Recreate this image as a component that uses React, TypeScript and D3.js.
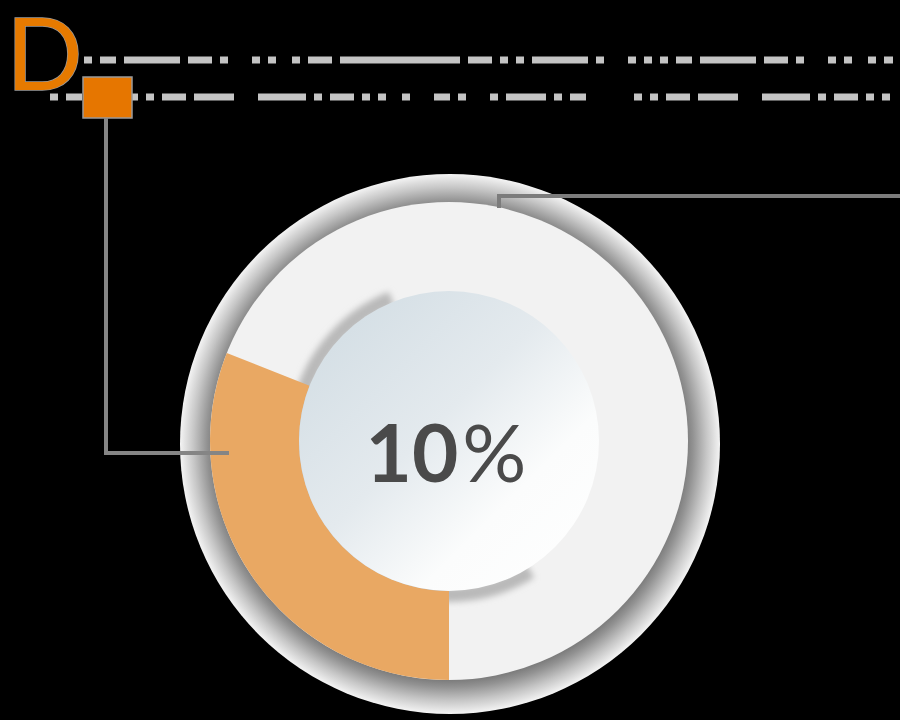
import { useEffect, useRef } from 'react';
import * as d3 from 'd3';

// donut shares (highlighted slice first, starting at 6 o'clock)
const sliceNames = ['highlight', 'rest'];
const sliceValues = [31, 69];
const centerLabel = '10';
const centerUnit = '%';
const badgeLetter = 'D';

// faint text rows at the top (dash runs, in px)
const rowOneDashes = [8, 8, 8, 8, 16, 8, 56, 8, 24, 8, 8, 24, 8, 8, 8, 16, 8, 8, 24, 8, 120, 8, 24, 8, 8, 8, 8, 8, 56, 8, 8, 24, 8, 8];
const rowTwoDashes = [8, 8, 16, 48, 8, 8, 8, 8, 24, 8, 40, 24, 48, 8, 8, 8, 24, 8, 8, 8, 8, 16, 8, 24, 16, 8, 8, 24, 8, 8, 40, 8];

export default function App() {
  const svgRef = useRef<SVGSVGElement>(null);

  useEffect(() => {
    if (!svgRef.current) return;
    const W = 900;
    const H = 720;
    const cx = 449;
    const cy = 441;
    const rOuter = 270;
    const rTrack = 239;
    const rDisk = 150;

    const root = d3.select(svgRef.current);
    root.selectAll('*').remove();
    root.attr('width', W).attr('height', H);

    const defs = root.append('defs');

    const ringGrad = defs
      .append('radialGradient')
      .attr('id', 'ringGrad')
      .attr('cx', '50%')
      .attr('cy', '50%')
      .attr('r', '50%');
    ringGrad.append('stop').attr('offset', '0.86').attr('stop-color', '#707070');
    ringGrad.append('stop').attr('offset', '0.9').attr('stop-color', '#929292');
    ringGrad.append('stop').attr('offset', '0.95').attr('stop-color', '#c6c6c6');
    ringGrad.append('stop').attr('offset', '1').attr('stop-color', '#f4f4f4');

    const diskGrad = defs
      .append('linearGradient')
      .attr('id', 'diskGrad')
      .attr('x1', '0')
      .attr('y1', '0')
      .attr('x2', '1')
      .attr('y2', '1');
    diskGrad.append('stop').attr('offset', '0').attr('stop-color', '#cfdbe2');
    diskGrad.append('stop').attr('offset', '0.45').attr('stop-color', '#e4eaee');
    diskGrad.append('stop').attr('offset', '0.7').attr('stop-color', '#fbfcfc');
    diskGrad.append('stop').attr('offset', '1').attr('stop-color', '#ffffff');

    const blur = defs.append('filter').attr('id', 'blur').attr('x', '-20%').attr('y', '-20%').attr('width', '140%').attr('height', '140%');
    blur.append('feGaussianBlur').attr('stdDeviation', 3);

    // background
    root.append('rect').attr('width', W).attr('height', H).attr('fill', '#000');

    // faint text rows
    const rows = [
      { y: 60, x1: 68, dashes: rowOneDashes },
      { y: 97, x1: 50, dashes: rowTwoDashes },
    ];
    rows.forEach((r) => {
      root
        .append('line')
        .attr('x1', r.x1)
        .attr('x2', 893)
        .attr('y1', r.y)
        .attr('y2', r.y)
        .attr('stroke', '#c4c4c4')
        .attr('stroke-width', 7)
        .attr('stroke-dasharray', r.dashes.join(' '));
    });

    // badge
    root
      .append('text')
      .attr('x', 6)
      .attr('y', 90)
      .text(badgeLetter)
      .attr('fill', '#e67a00')
      .attr('stroke', '#9a9a9a')
      .attr('stroke-width', 1.5)
      .attr('paint-order', 'stroke')
      .style('font-family', 'Lato, "Open Sans", sans-serif')
      .style('font-size', '101px')
      .style('font-weight', 400);
    root
      .append('rect')
      .attr('x', 83)
      .attr('y', 77)
      .attr('width', 49)
      .attr('height', 41)
      .attr('fill', '#e67600')
      .attr('stroke', '#9a9a9a')
      .attr('stroke-width', 1.5);

    const g = root.append('g').attr('transform', `translate(${cx},${cy})`);

    // outer shaded ring
    g.append('circle').attr('cx', 1).attr('cy', 3).attr('r', rOuter).attr('fill', 'url(#ringGrad)');

    // track
    g.append('circle').attr('r', rTrack).attr('fill', '#f2f2f2');

    // disk drop shadow on the track
    const shadowArc = d3
      .arc<any>()
      .innerRadius(rDisk - 4)
      .outerRadius(rDisk + 11)
      .startAngle((148 * Math.PI) / 180)
      .endAngle((338 * Math.PI) / 180);
    g.append('path').attr('d', shadowArc({}) as string).attr('fill', '#b9b9b9').attr('filter', 'url(#blur)');

    // slices
    const pie = d3
      .pie<number>()
      .sort(null)
      .startAngle(Math.PI)
      .endAngle(3 * Math.PI);
    const arcs = pie(sliceValues);
    const sliceArc = d3.arc<d3.PieArcDatum<number>>().innerRadius(rDisk).outerRadius(rTrack);
    const colors: Record<string, string> = { highlight: '#e9a863', rest: 'none' };
    g.selectAll('.slice')
      .data(arcs)
      .enter()
      .append('path')
      .attr('d', (d) => sliceArc(d) as string)
      .attr('fill', (_, i) => colors[sliceNames[i]]);

    // center disk
    g.append('circle').attr('r', rDisk).attr('fill', 'url(#diskGrad)');

    // center label
    const label = g
      .append('text')
      .attr('x', -3)
      .attr('y', 41)
      .attr('text-anchor', 'middle')
      .attr('fill', '#4a4a4a')
      .style('font-family', 'Lato, "Open Sans", sans-serif')
      .style('font-size', '80px');
    label.append('tspan').text(centerLabel).style('font-weight', 700);
    label.append('tspan').attr('dx', 4).text(centerUnit).style('font-weight', 400);

    // connectors, drawn over the ring
    root
      .append('path')
      .attr('d', `M106,118 V453 H229`)
      .attr('fill', 'none')
      .attr('stroke', '#858585')
      .attr('stroke-width', 4);
    root
      .append('path')
      .attr('d', `M499,208 V196 H900`)
      .attr('fill', 'none')
      .attr('stroke', '#7c7c7c')
      .attr('stroke-width', 4);
  }, []);

  return (
    <div style={{ position: 'fixed', left: 0, top: 0, width: 900, height: 720, background: '#000' }}>
      <svg ref={svgRef} style={{ display: 'block' }} />
    </div>
  );
}
